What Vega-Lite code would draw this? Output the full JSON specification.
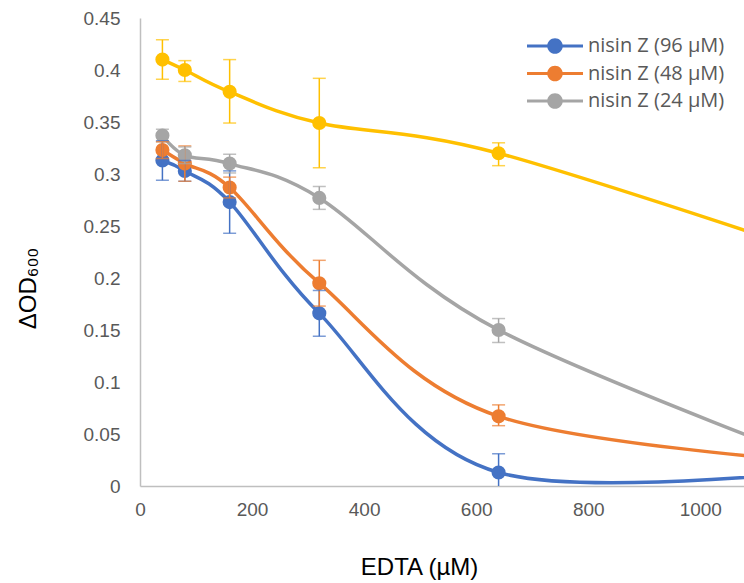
{
  "$schema": "https://vega.github.io/schema/vega-lite/v6.json",
  "width": 604,
  "height": 468,
  "autosize": "none",
  "padding": {"left": 140, "top": 18, "right": 0, "bottom": 97},
  "background": "white",
  "config": {
    "view": {"stroke": null},
    "axis": {
      "grid": false,
      "ticks": false,
      "domainColor": "#BFBFBF",
      "domainWidth": 1.5,
      "labelFont": "Liberation Sans",
      "labelFontSize": 19,
      "labelColor": "#595959",
      "labelFlush": false,
      "titleFont": "Liberation Sans",
      "titleFontSize": 24,
      "titleFontWeight": "normal",
      "titleColor": "#000000"
    }
  },
  "data": {
    "values": [
      {"series": "nisin Z (96 µM)", "edta": 40, "od": 0.313, "lo": 0.294, "hi": 0.332},
      {"series": "nisin Z (96 µM)", "edta": 80, "od": 0.303, "lo": 0.293, "hi": 0.313},
      {"series": "nisin Z (96 µM)", "edta": 160, "od": 0.273, "lo": 0.243, "hi": 0.303},
      {"series": "nisin Z (96 µM)", "edta": 320, "od": 0.166, "lo": 0.144, "hi": 0.188},
      {"series": "nisin Z (96 µM)", "edta": 640, "od": 0.013, "lo": -0.005, "hi": 0.031},
      {"series": "nisin Z (96 µM)", "edta": 1280, "od": 0.018, "lo": null, "hi": null},
      {"series": "nisin Z (48 µM)", "edta": 40, "od": 0.323, "lo": 0.315, "hi": 0.331},
      {"series": "nisin Z (48 µM)", "edta": 80, "od": 0.31, "lo": 0.293, "hi": 0.327},
      {"series": "nisin Z (48 µM)", "edta": 160, "od": 0.287, "lo": 0.277, "hi": 0.297},
      {"series": "nisin Z (48 µM)", "edta": 320, "od": 0.195, "lo": 0.173, "hi": 0.217},
      {"series": "nisin Z (48 µM)", "edta": 640, "od": 0.067, "lo": 0.058, "hi": 0.078},
      {"series": "nisin Z (48 µM)", "edta": 1280, "od": 0.02, "lo": null, "hi": null},
      {"series": "nisin Z (24 µM)", "edta": 40, "od": 0.337, "lo": 0.331, "hi": 0.343},
      {"series": "nisin Z (24 µM)", "edta": 80, "od": 0.318, "lo": 0.31, "hi": 0.326},
      {"series": "nisin Z (24 µM)", "edta": 160, "od": 0.31, "lo": 0.301, "hi": 0.319},
      {"series": "nisin Z (24 µM)", "edta": 320, "od": 0.277, "lo": 0.266, "hi": 0.288},
      {"series": "nisin Z (24 µM)", "edta": 640, "od": 0.15, "lo": 0.138, "hi": 0.161},
      {"series": "nisin Z (24 µM)", "edta": 1280, "od": 0.008, "lo": null, "hi": null},
      {"series": "nisin Z (12 µM)", "edta": 40, "od": 0.41, "lo": 0.391, "hi": 0.429},
      {"series": "nisin Z (12 µM)", "edta": 80, "od": 0.4, "lo": 0.389, "hi": 0.409},
      {"series": "nisin Z (12 µM)", "edta": 160, "od": 0.379, "lo": 0.349, "hi": 0.41},
      {"series": "nisin Z (12 µM)", "edta": 320, "od": 0.349, "lo": 0.306, "hi": 0.392},
      {"series": "nisin Z (12 µM)", "edta": 640, "od": 0.32, "lo": 0.308, "hi": 0.33},
      {"series": "nisin Z (12 µM)", "edta": 1280, "od": 0.21, "lo": null, "hi": null}
    ]
  },
  "encoding": {
    "x": {
      "field": "edta", "type": "quantitative",
      "scale": {"domain": [0, 1078], "nice": false, "zero": false},
      "axis": {"values": [0, 200, 400, 600, 800, 1000], "format": "d", "title": "EDTA (µM)", "labelPadding": 14, "titleX": 279, "titleY": 81, "titleBaseline": "middle", "titleAnchor": null, "titleAlign": "center"}
    },
    "y": {
      "field": "od", "type": "quantitative",
      "scale": {"domain": [0, 0.45], "nice": false},
      "axis": {"values": [0, 0.05, 0.1, 0.15, 0.2, 0.25, 0.3, 0.35, 0.4, 0.45], "format": "~g", "title": "ΔOD₆₀₀", "labelPadding": 20, "titleX": -112, "titleY": 270, "titleAngle": -90, "titleAlign": "center", "titleBaseline": "middle", "titleAnchor": null}
    },
    "color": {
      "field": "series", "type": "nominal",
      "scale": {
        "domain": ["nisin Z (96 µM)", "nisin Z (48 µM)", "nisin Z (24 µM)", "nisin Z (12 µM)"],
        "range": ["#4472C4", "#ED7D31", "#A5A5A5", "#FFC000"]
      },
      "legend": {
        "values": ["nisin Z (96 µM)", "nisin Z (48 µM)", "nisin Z (24 µM)"],
        "title": null,
        "orient": "none",
        "legendX": 405,
        "legendY": 18,
        "padding": 0,
        "symbolType": "M-2.8,-0.16H2.8V0.16H-2.8Z M0.78,0A0.78,0.78 0 1,1 -0.78,0A0.78,0.78 0 1,1 0.78,0Z",
        "symbolSize": 400,
        "symbolStrokeWidth": 0,
        "symbolOpacity": 1,
        "labelOffset": 23,
        "labelFont": "Open Sans",
        "labelFontSize": 20,
        "labelColor": "#595959",
        "labelBaseline": "middle",
        "rowPadding": 7.5,
        "labelLimit": 300
      }
    }
  },
  "layer": [
    {
      "mark": {"type": "point", "filled": true, "size": 0, "opacity": 1, "clip": true}
    },
    {
      "mark": {"type": "line", "interpolate": "cardinal", "tension": 0, "strokeWidth": 3.5, "clip": true}
    },
    {
      "mark": {"type": "point", "filled": true, "size": 200, "opacity": 1, "clip": true}
    },
    {
      "transform": [{"filter": "datum.lo != null"}],
      "mark": {"type": "rule", "strokeWidth": 1.5, "clip": true},
      "encoding": {
        "y": {"field": "lo", "type": "quantitative"},
        "y2": {"field": "hi"}
      }
    },
    {
      "transform": [{"filter": "datum.lo != null"}],
      "mark": {"type": "tick", "orient": "horizontal", "size": 13, "thickness": 1.5, "clip": true},
      "encoding": {
        "y": {"field": "lo", "type": "quantitative"}
      }
    },
    {
      "transform": [{"filter": "datum.lo != null"}],
      "mark": {"type": "tick", "orient": "horizontal", "size": 13, "thickness": 1.5, "clip": true},
      "encoding": {
        "y": {"field": "hi", "type": "quantitative"}
      }
    }
  ]
}
